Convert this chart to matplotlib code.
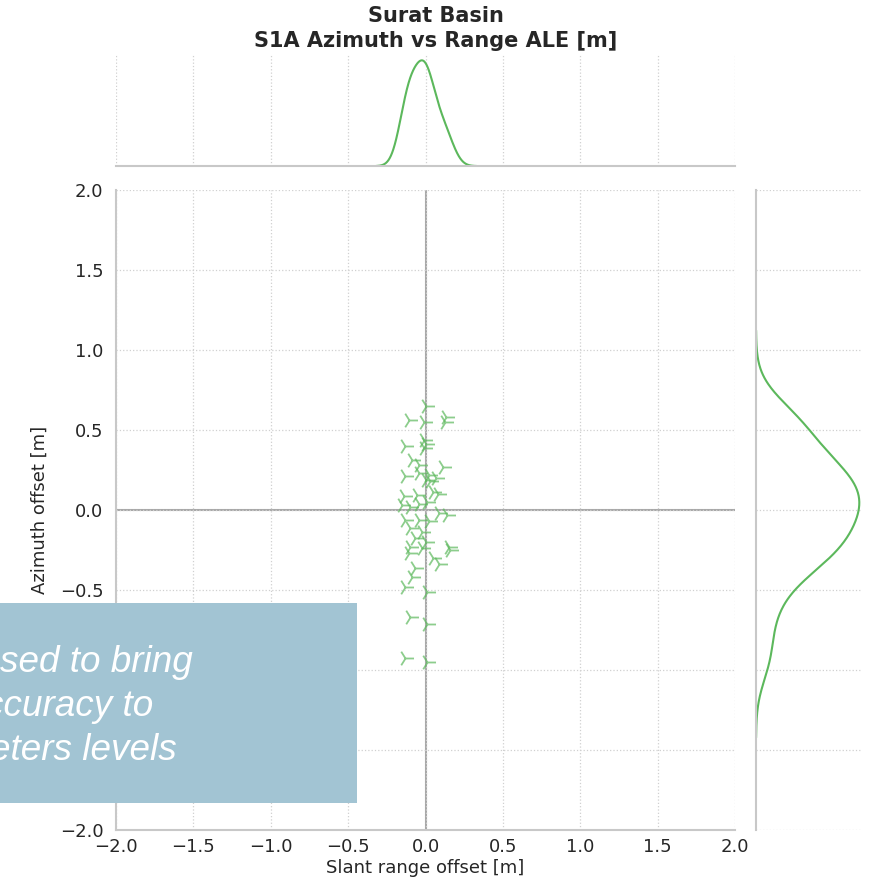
"""
Joint scatter of slant range vs azimuth geolocation offsets (Surat Basin, S1A),
with KDE marginals on the top and right.
"""

import matplotlib.pyplot as plt
import numpy as np
from matplotlib.patches import Rectangle

# Per-reflector offsets [m]
range_offset = [
    0.005, -0.11, -0.01, 0.13, 0.125, -0.13, -0.01, 0.00, -0.01, -0.085,
    0.11, -0.045, -0.13, -0.045, 0.02, 0.065, 0.03, 0.00, -0.14, -0.055,
    0.045, 0.08, -0.15, -0.10, -0.045, 0.01, 0.085, 0.14, -0.13, -0.045,
    0.02, -0.10, -0.02, -0.065, 0.00, -0.10, 0.15, -0.02, 0.16, -0.11,
    0.045, 0.085, -0.065, -0.085, -0.13, 0.01, -0.10, 0.01, -0.13, 0.01,
]
azimuth_offset = [
    0.65, 0.56, 0.55, 0.58, 0.55, 0.40, 0.44, 0.41, 0.385, 0.31,
    0.27, 0.28, 0.21, 0.23, 0.22, 0.20, 0.18, 0.19, 0.09, 0.095,
    0.115, 0.10, 0.03, 0.02, 0.04, 0.05, -0.02, -0.03, -0.06, -0.06,
    -0.07, -0.11, -0.135, -0.175, -0.20, -0.23, -0.23, -0.24, -0.25, -0.27,
    -0.30, -0.34, -0.365, -0.42, -0.48, -0.51, -0.67, -0.71, -0.925, -0.95,
]

ticks = [-2.0, -1.5, -1.0, -0.5, 0.0, 0.5, 1.0, 1.5, 2.0]

GREEN = "#5cb85c"
GRID = "#d0d0d0"
SPINE = "#c8c8c8"
TEXT = "#262626"


def scott_bw(values, adjust=1.0):
    values = np.asarray(values)
    return adjust * values.std(ddof=1) * len(values) ** (-1 / 5)


def kde(values, grid, bw):
    values = np.asarray(values)
    z = (grid[:, None] - values[None, :]) / bw
    return np.exp(-0.5 * z ** 2).sum(axis=1) / (len(values) * bw * np.sqrt(2 * np.pi))


def support(values, bw):
    return np.linspace(min(values) - 3 * bw, max(values) + 3 * bw, 400)


plt.rcParams["font.family"] = ["DejaVu Sans"]
fig = plt.figure(figsize=(8.72, 8.88), dpi=100)

ax = fig.add_axes([0.133, 0.0653, 0.710, 0.7207])
ax_top = fig.add_axes([0.133, 0.813, 0.710, 0.125], sharex=ax)
ax_right = fig.add_axes([0.867, 0.0653, 0.122, 0.7207], sharey=ax)

# main scatter
ax.axhline(0, color="#a8a8a8", lw=1.5, zorder=1)
ax.axvline(0, color="#a8a8a8", lw=1.5, zorder=1)
ax.scatter(range_offset, azimuth_offset, marker="4", s=150, color=GREEN,
           alpha=0.7, linewidths=1.3, zorder=3)
ax.set_xlim(-2, 2)
ax.set_ylim(-2, 2)
ax.set_xticks(ticks)
ax.set_yticks(ticks)
ax.tick_params(labelsize=13, colors=TEXT, length=0, pad=6)
ax.tick_params(axis="y", pad=9)
ax.set_xlabel("Slant range offset [m]", fontsize=13, color=TEXT, labelpad=2)
ax.set_ylabel("Azimuth offset [m]", fontsize=13, color=TEXT, labelpad=8)
ax.grid(True, linestyle=":", color=GRID, lw=0.9)

# marginals
bw_x = scott_bw(range_offset, adjust=1.4)
gx = support(range_offset, bw_x)
dx = kde(range_offset, gx, bw_x)
ax_top.plot(gx, dx, color=GREEN, lw=1.5)
ax_top.set_ylim(0, dx.max() * 1.05)
ax_top.grid(True, axis="x", linestyle=":", color=GRID, lw=0.9)
ax_top.grid(False, axis="y")

bw_y = scott_bw(azimuth_offset, adjust=0.9)
gy = support(azimuth_offset, bw_y)
dy = kde(azimuth_offset, gy, bw_y)
ax_right.plot(dy, gy, color=GREEN, lw=1.5)
ax_right.set_xlim(0, dy.max() * 1.03)
ax_right.grid(True, axis="y", linestyle=":", color=GRID, lw=0.9)
ax_right.grid(False, axis="x")

for a in (ax_top, ax_right):
    a.tick_params(left=False, bottom=False, labelleft=False, labelbottom=False)

for name, sp in ax.spines.items():
    sp.set_visible(name in ("left", "bottom"))
    sp.set_color(SPINE)
    sp.set_linewidth(1.5)
for name, sp in ax_top.spines.items():
    sp.set_visible(name == "bottom")
    sp.set_color(SPINE)
    sp.set_linewidth(1.5)
for name, sp in ax_right.spines.items():
    sp.set_visible(name == "left")
    sp.set_color(SPINE)
    sp.set_linewidth(1.5)

fig.suptitle("Surat Basin\nS1A Azimuth vs Range ALE [m]", fontsize=15,
             fontweight="bold", color=TEXT, y=0.993, linespacing=1.3)

# slide callout box over the lower left corner
fig.patches.append(Rectangle((0, 0.0957), 0.4094, 0.2252, transform=fig.transFigure,
                             facecolor="#a2c4d3", edgecolor="none", zorder=10))
callout = ["sed to bring", "ccuracy to", "eters levels"]
callout_x = [0, -15, -10]
for i, line in enumerate(callout):
    fig.text(callout_x[i] / 872, 1 - (672 + 44 * i) / 888, line, fontsize=26.6,
             style="italic", family="Liberation Sans", color="white",
             ha="left", va="baseline", zorder=11)

fig.savefig("out.png", dpi=100)
